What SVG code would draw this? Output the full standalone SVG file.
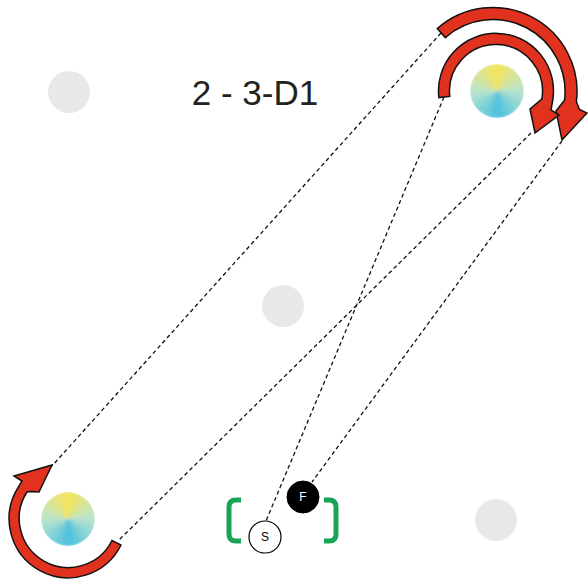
<svg xmlns="http://www.w3.org/2000/svg" width="588" height="585" viewBox="0 0 588 585">
  <style>
    .spot { fill: #e7e8e7; }
    .link { fill: none; stroke: #111; stroke-width: 1.3; stroke-dasharray: 4 3; }
    .rot { fill: #e0321f; stroke: #111; stroke-width: 1.5; stroke-linejoin: miter; }
    .brk { fill: none; stroke: #17a555; stroke-width: 5; stroke-linecap: butt; }
    .title { font-family: "Liberation Sans", Arial, sans-serif; font-size: 35px; fill: #222; }
    .lbl { font-family: "Liberation Sans", Arial, sans-serif; font-size: 12px; text-anchor: middle; }
  </style>
  <defs>
    <clipPath id="disc"><circle cx="0" cy="0" r="27"/></clipPath>
    <filter id="soft" x="-20%" y="-20%" width="140%" height="140%"><feGaussianBlur stdDeviation="1.6"/></filter>
    <g id="cone">
      <g clip-path="url(#disc)">
        <g filter="url(#soft)">
          <path d="M0 0L0 -27A27 27 0 0 1 6.99 -26.08Z" fill="rgb(242,228,100)" stroke="rgb(242,228,100)"/>
          <path d="M0 0L6.99 -26.08A27 27 0 0 1 13.5 -23.38Z" fill="rgb(231,228,119)" stroke="rgb(231,228,119)"/>
          <path d="M0 0L13.5 -23.38A27 27 0 0 1 19.09 -19.09Z" fill="rgb(221,228,138)" stroke="rgb(221,228,138)"/>
          <path d="M0 0L19.09 -19.09A27 27 0 0 1 23.38 -13.5Z" fill="rgb(211,228,157)" stroke="rgb(211,228,157)"/>
          <path d="M0 0L23.38 -13.5A27 27 0 0 1 26.08 -6.99Z" fill="rgb(200,228,176)" stroke="rgb(200,228,176)"/>
          <path d="M0 0L26.08 -6.99A27 27 0 0 1 27 0Z" fill="rgb(190,228,195)" stroke="rgb(190,228,195)"/>
          <path d="M0 0L27 0A27 27 0 0 1 26.08 6.99Z" fill="rgb(176,225,207)" stroke="rgb(176,225,207)"/>
          <path d="M0 0L26.08 6.99A27 27 0 0 1 23.38 13.5Z" fill="rgb(158,219,210)" stroke="rgb(158,219,210)"/>
          <path d="M0 0L23.38 13.5A27 27 0 0 1 19.09 19.09Z" fill="rgb(140,213,213)" stroke="rgb(140,213,213)"/>
          <path d="M0 0L19.09 19.09A27 27 0 0 1 13.5 23.38Z" fill="rgb(121,207,216)" stroke="rgb(121,207,216)"/>
          <path d="M0 0L13.5 23.38A27 27 0 0 1 6.99 26.08Z" fill="rgb(103,201,218)" stroke="rgb(103,201,218)"/>
          <path d="M0 0L6.99 26.08A27 27 0 0 1 0 27Z" fill="rgb(85,195,222)" stroke="rgb(85,195,222)"/>
          <path d="M0 0L0 27A27 27 0 0 1 -6.99 26.08Z" fill="rgb(85,195,222)" stroke="rgb(85,195,222)"/>
          <path d="M0 0L-6.99 26.08A27 27 0 0 1 -13.5 23.38Z" fill="rgb(103,201,218)" stroke="rgb(103,201,218)"/>
          <path d="M0 0L-13.5 23.38A27 27 0 0 1 -19.09 19.09Z" fill="rgb(121,207,216)" stroke="rgb(121,207,216)"/>
          <path d="M0 0L-19.09 19.09A27 27 0 0 1 -23.38 13.5Z" fill="rgb(140,213,213)" stroke="rgb(140,213,213)"/>
          <path d="M0 0L-23.38 13.5A27 27 0 0 1 -26.08 6.99Z" fill="rgb(158,219,210)" stroke="rgb(158,219,210)"/>
          <path d="M0 0L-26.08 6.99A27 27 0 0 1 -27 0Z" fill="rgb(176,225,207)" stroke="rgb(176,225,207)"/>
          <path d="M0 0L-27 0A27 27 0 0 1 -26.08 -6.99Z" fill="rgb(190,228,195)" stroke="rgb(190,228,195)"/>
          <path d="M0 0L-26.08 -6.99A27 27 0 0 1 -23.38 -13.5Z" fill="rgb(200,228,176)" stroke="rgb(200,228,176)"/>
          <path d="M0 0L-23.38 -13.5A27 27 0 0 1 -19.09 -19.09Z" fill="rgb(211,228,157)" stroke="rgb(211,228,157)"/>
          <path d="M0 0L-19.09 -19.09A27 27 0 0 1 -13.5 -23.38Z" fill="rgb(221,228,138)" stroke="rgb(221,228,138)"/>
          <path d="M0 0L-13.5 -23.38A27 27 0 0 1 -6.99 -26.08Z" fill="rgb(231,228,119)" stroke="rgb(231,228,119)"/>
          <path d="M0 0L-6.99 -26.08A27 27 0 0 1 0 -27Z" fill="rgb(242,228,100)" stroke="rgb(242,228,100)"/>
        </g>
      </g>
    </g>
  </defs>

  <rect x="0" y="0" width="588" height="585" fill="#ffffff"/>

  <text class="title" x="255" y="105" text-anchor="middle">2 - 3-D1</text>

  <g id="spot-top-left"><circle class="spot" cx="69" cy="92" r="21"/></g>
  <g id="spot-center"><circle class="spot" cx="283" cy="306" r="21"/></g>
  <g id="spot-bottom-right"><circle class="spot" cx="496" cy="520" r="21"/></g>

  <g id="player-top-right"><use href="#cone" x="497" y="91"/></g>
  <g id="player-bottom-left"><use href="#cone" x="68" y="519"/></g>

  <g id="connectors">
    <line class="link" x1="441" y1="33" x2="52" y2="466"/>
    <line class="link" x1="444" y1="97" x2="266" y2="521"/>
    <line class="link" x1="531" y1="133" x2="118" y2="541"/>
    <line class="link" x1="562" y1="141" x2="312" y2="482"/>
  </g>

  <g id="rotations">
    <path class="rot" d="M437.3 28.6A84 84 0 0 1 576.4 101.7L579.5 109.5L587 113L562 140L556 111L564.5 100.3A72 72 0 0 0 445.3 37.6Z"/>
    <path class="rot" d="M438.9 97.6A57.5 57.5 0 1 1 552.6 101L551 110L559 115L535 133L530 109L541.8 99.1A46.5 46.5 0 1 0 449.8 96.3Z"/>
    <path class="rot" d="M112 540.5A49 49 0 1 1 27 492L31 491.5L39 492L52 465L14 476L22 481L18 487.7A59 59 0 1 0 121 545Z"/>
  </g>

  <g id="bracket-left"><path class="brk" d="M241 500L236 500Q229 500 229 507L229 534Q229 541 236 541L241 541"/></g>
  <g id="bracket-right"><path class="brk" d="M324 500L329 500Q336 500 336 507L336 534Q336 541 329 541L324 541"/></g>

  <g id="node-F">
    <circle cx="303" cy="497" r="16" fill="#000" stroke="#000" stroke-width="1"/>
    <text class="lbl" x="303" y="501" fill="#fff">F</text>
  </g>
  <g id="node-S">
    <circle cx="265" cy="537" r="16" fill="#fff" stroke="#000" stroke-width="1.2"/>
    <text class="lbl" x="265" y="541" fill="#000">S</text>
  </g>
</svg>
